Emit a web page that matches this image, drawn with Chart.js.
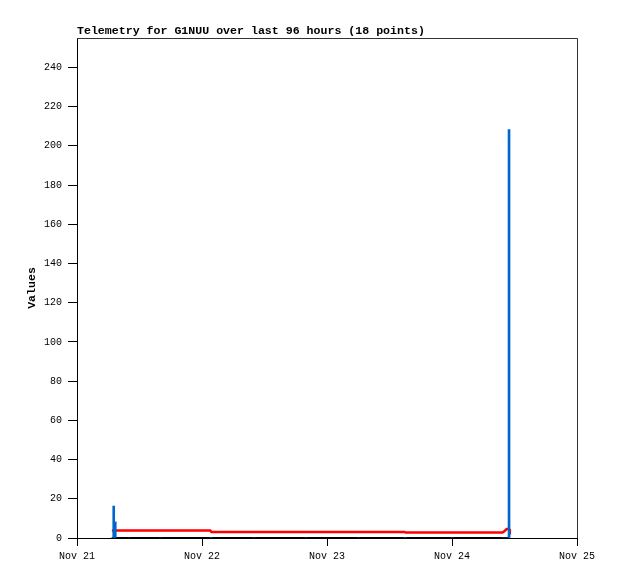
<!DOCTYPE html>
<html>
<head>
<meta charset="utf-8">
<script src="https://cdn.jsdelivr.net/npm/chart.js@4.4.0/dist/chart.umd.min.js"></script>
<style>
  body { margin: 0; background: #fff; }
  canvas { display: block; }
</style>
</head>
<body>
<canvas id="telemetry" width="618" height="579"></canvas>
<script>
// hours since Nov 21 00:00
var hours = [6.7, 7.05, 7.35, 10, 16, 25.6, 25.8, 34, 44, 54, 62.9, 63.1, 72, 81.7, 82.1, 82.5, 82.95, 83.1];
var redValues = [3.8, 3.8, 3.8, 3.8, 3.8, 3.8, 3.1, 3.1, 3.1, 3.1, 3.1, 2.8, 2.8, 2.8, 3.6, 4.6, 4.6, 3.8];
var blueValues = [0, 16.3, 8.2, 0, 0, 0, 0, 0, 0, 0, 0, 0, 0, 0, 0, 0, 208.3, 0];
var blackValues = [0, 0, 0, 0, 0, 0, 0, 0, 0, 0, 0, 0, 0, 0, 0, 0, 0, 0];
var dayLabels = ["Nov 21", "Nov 22", "Nov 23", "Nov 24", "Nov 25"];
var titleText = "Telemetry for G1NUU over last 96 hours (18 points)";

function pairs(values) {
    return hours.map(function (h, i) { return {x: h, y: values[i]}; });
}

var monoFont = "'Liberation Mono', 'DejaVu Sans Mono', monospace";

// frame on top/right plus the title above the plot
var framePlugin = {
    id: 'frame',
    afterDraw: function (chart) {
        var ctx = chart.ctx, a = chart.chartArea;
        ctx.save();
        ctx.strokeStyle = '#333';
        ctx.lineWidth = 1;
        ctx.beginPath();
        ctx.moveTo(a.left, a.top + 0.5);
        ctx.lineTo(a.right + 0.5, a.top + 0.5);
        ctx.lineTo(a.right + 0.5, a.bottom);
        ctx.stroke();
        ctx.fillStyle = '#000';
        ctx.font = "bold 11.6px " + monoFont;
        ctx.textBaseline = 'alphabetic';
        ctx.textAlign = 'left';
        ctx.fillText(titleText, a.left, a.top - 4);
        ctx.restore();
    }
};

var chart = new Chart(document.getElementById('telemetry'), {
    type: 'line',
    data: {
        datasets: [{
            type: 'bar',
            data: pairs(blueValues),
            backgroundColor: '#0066cc',
            borderWidth: 0,
            barThickness: 2,
            order: 1
        }, {
            data: pairs(redValues),
            borderColor: '#ff0000',
            borderWidth: 2.5,
            pointRadius: 0,
            tension: 0,
            order: 2
        }, {
            data: pairs(blackValues),
            borderColor: '#000',
            borderWidth: 2,
            pointRadius: 0,
            order: 3
        }]
    },
    options: {
        responsive: false,
        animation: false,
        layout: { padding: { left: 0, top: 38, right: 41, bottom: 0 } },
        plugins: {
            legend: { display: false },
            tooltip: { enabled: false }
        },
        scales: {
            x: {
                type: 'linear',
                min: 0,
                max: 96,
                offset: false,
                grid: { display: true, offset: false, drawOnChartArea: false, tickLength: 8, color: '#000' },
                border: { color: '#000', width: 1 },
                ticks: {
                    stepSize: 24,
                    color: '#000',
                    padding: 4,
                    maxRotation: 0,
                    font: { family: monoFont, size: 10 },
                    callback: function (value) { return dayLabels[Math.round(value / 24)]; }
                },
                afterFit: function (scale) { scale.height = 41; }
            },
            y: {
                min: 0,
                max: 255,
                grid: { display: true, drawOnChartArea: false, tickLength: 9, color: '#000' },
                border: { color: '#000', width: 1 },
                ticks: {
                    stepSize: 20,
                    includeBounds: false,
                    color: '#000',
                    padding: 6,
                    font: { family: monoFont, size: 10 }
                },
                title: {
                    display: true,
                    text: 'Values',
                    color: '#000',
                    font: { family: monoFont, size: 11.6, weight: 'bold' },
                    padding: { top: 25, bottom: 0 }
                },
                afterFit: function (scale) { scale.width = 77; }
            }
        }
    },
    plugins: [framePlugin]
});
</script>
</body>
</html>
